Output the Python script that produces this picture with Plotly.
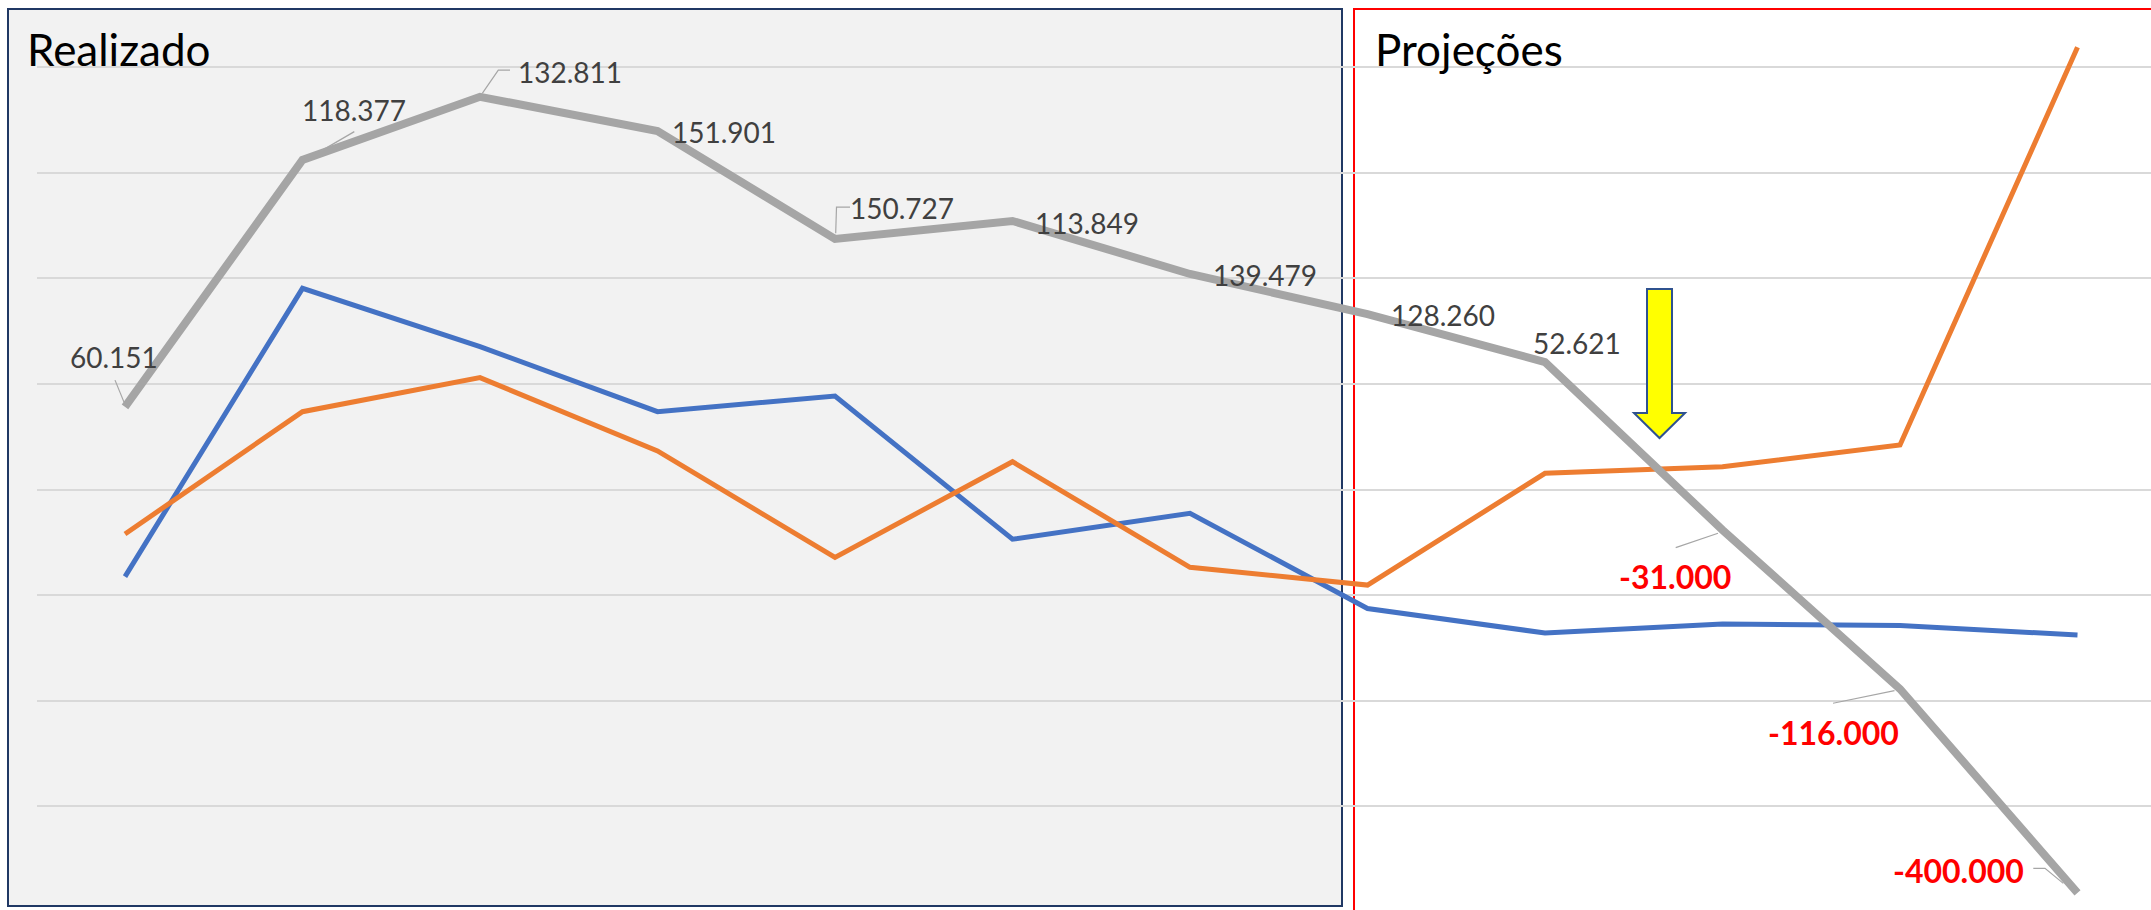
import plotly.graph_objects as go

# ---------------- data ----------------
periods = list(range(12))
resultado = [239.2, 356.1, 386.0, 369.8, 318.7, 327.2, 302.1, 283.1, 260.4, 180.9, 105.6, 9.1]
serie_azul = [158.8, 295.3, 267.7, 236.9, 244.3, 176.5, 188.8, 143.7, 132.1, 136.4, 135.6, 131.2]
serie_laranja = [179.0, 236.9, 253.0, 218.3, 167.9, 213.2, 163.2, 154.8, 207.7, 210.8, 221.1, 409.4]
rotulos = ["60.151", "118.377", "132.811", "151.901", "150.727", "113.849",
           "139.479", "128.260", "52.621", "-31.000", "-116.000", "-400.000"]
titulo_realizado = "Realizado"
titulo_projecoes = "Projeções"

# ---------------- layout helpers ----------------
W, H = 2151, 910
ML = 37
PW = W - ML


def px(X):
    return (X - ML) / PW


def py(Y):
    return (H - Y) / H


fig = go.Figure()

fig.add_trace(go.Scatter(x=periods, y=serie_azul, mode="lines",
                         line=dict(color="#4472C4", width=5), hoverinfo="skip"))
fig.add_trace(go.Scatter(x=periods, y=serie_laranja, mode="lines",
                         line=dict(color="#ED7D31", width=5), hoverinfo="skip"))
fig.add_trace(go.Scatter(x=periods, y=resultado, mode="lines",
                         line=dict(color="#A5A5A5", width=8), hoverinfo="skip"))

shapes = []
# background boxes
shapes.append(dict(type="rect", xref="paper", yref="paper", layer="below",
                   x0=px(8), x1=px(1342), y0=py(906), y1=py(9),
                   fillcolor="#F2F2F2", line=dict(color="#203864", width=2)))
shapes.append(dict(type="rect", xref="paper", yref="paper", layer="below",
                   x0=px(1354), x1=px(2170), y0=py(930), y1=py(9),
                   fillcolor="rgba(0,0,0,0)", line=dict(color="#FF0000", width=2)))

# yellow arrow
arrow = [(1647, 289), (1672, 289), (1672, 413), (1685, 413), (1659.5, 438),
         (1634, 413), (1647, 413)]
path = "M " + " L ".join(f"{px(a)},{py(b)}" for a, b in arrow) + " Z"
shapes.append(dict(type="path", xref="paper", yref="paper", path=path,
                   fillcolor="#FFFF00", line=dict(color="#2F528F", width=2), layer="above"))

# label offsets (pixels, relative to their data point) and leader lines
offsets = [(-11.5, 49.7), (51.5, 50), (90, 24.7), (66.5, -1), (67, 30.5), (74.5, -2),
           (74.5, -1), (75, -1), (31.5, 19.5), (-48, -46.5), (-67, -44), (-119.5, 22.2)]
leaders = {
    0: [(-10, 26.7), (-1, 4.7)],
    1: [(17.5, 8.3), (51.8, 28.3)],
    2: [(2.3, 3.4), (18.3, 26.7), (30, 26.7)],
    4: [(0.7, 5.7), (1.5, 31.7), (15, 31.7)],
    9: [(-46.8, -17.7), (-4.5, -3.3)],
    10: [(-67, -14.3), (-5.5, -1.7)],
    11: [(-44.2, 24.4), (-32.5, 24.4), (-14.2, 9.4)],
}
for i, pts in leaders.items():
    p = "M " + " L ".join(f"{a},{b}" for a, b in pts)
    shapes.append(dict(type="path", xref="x", yref="y", xsizemode="pixel", ysizemode="pixel",
                       xanchor=periods[i], yanchor=resultado[i], path=p,
                       line=dict(color="#A6A6A6", width=1.2), layer="above"))

annotations = []
for i, txt in enumerate(rotulos):
    neg = txt.startswith("-")
    annotations.append(dict(
        x=periods[i], y=resultado[i], xref="x", yref="y", text=txt, showarrow=False,
        xshift=offsets[i][0], yshift=offsets[i][1], xanchor="center", yanchor="middle",
        font=dict(family="Lato", size=32 if neg else 28,
                  color="#FF0000" if neg else "#404040",
                  weight="bold" if neg else "normal")))

annotations.append(dict(x=px(25), y=py(49), xref="paper", yref="paper", text=titulo_realizado,
                        showarrow=False, xanchor="left", yanchor="middle",
                        font=dict(family="Lato", size=44, color="#000000")))
annotations.append(dict(x=px(1373), y=py(48.5), xref="paper", yref="paper", text=titulo_projecoes,
                        showarrow=False, xanchor="left", yanchor="middle",
                        font=dict(family="Lato", size=44, color="#000000")))

fig.update_layout(
    width=W, height=H, margin=dict(l=ML, r=0, t=0, b=0),
    paper_bgcolor="white", plot_bgcolor="rgba(0,0,0,0)",
    showlegend=False, shapes=shapes, annotations=annotations,
    xaxis=dict(range=[(37 - 125) / 177.5, (2151 - 125) / 177.5], showgrid=False,
               zeroline=False, showticklabels=False, showline=False, fixedrange=True),
    yaxis=dict(range=[(912 - 910) * 50 / 105.6, 912 * 50 / 105.6], tick0=0, dtick=50,
               showgrid=True, gridcolor="#D9D9D9", gridwidth=1.5, zeroline=False,
               showticklabels=False, showline=False, fixedrange=True),
)

fig.write_html("out.html", config={"displayModeBar": False},
               post_script="document.body.style.margin='0';document.body.style.overflow='hidden';")
